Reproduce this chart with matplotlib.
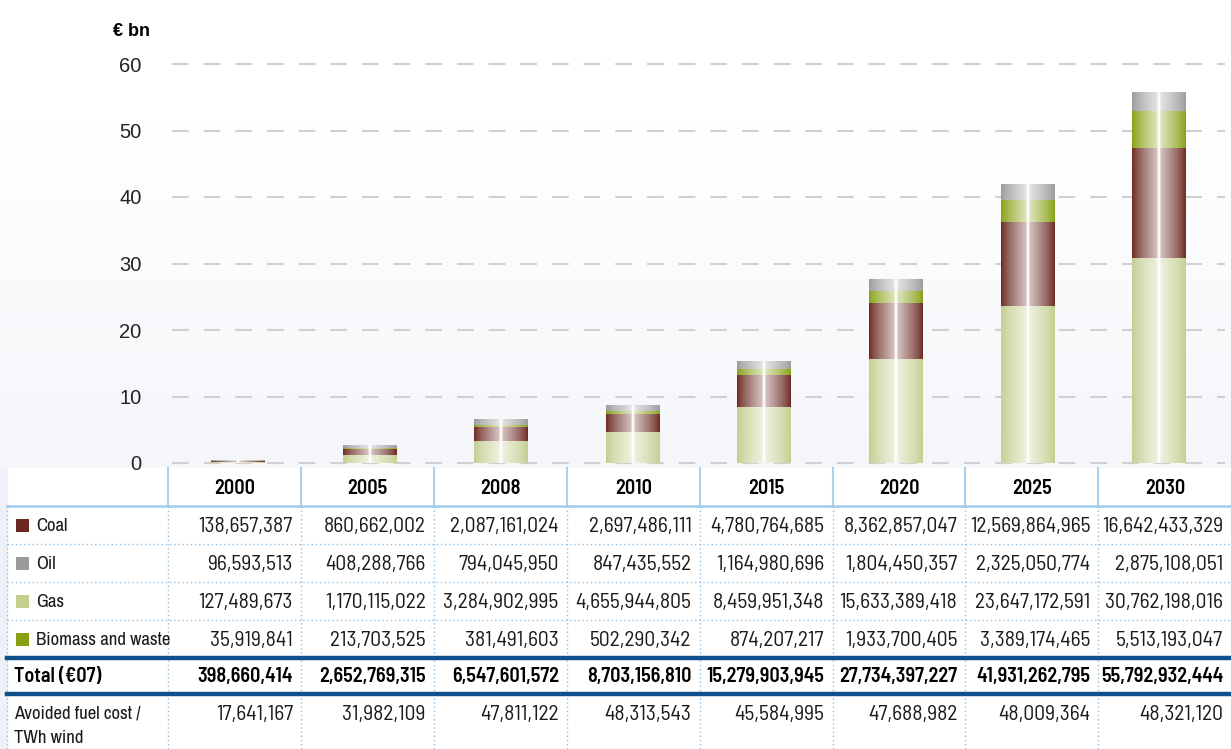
import numpy as np
import matplotlib.pyplot as plt
from matplotlib.colors import to_rgb

years = ["2000", "2005", "2008", "2010", "2015", "2020", "2025", "2030"]
coal = [138657387, 860662002, 2087161024, 2697486111, 4780764685, 8362857047, 12569864965, 16642433329]
oil = [96593513, 408288766, 794045950, 847435552, 1164980696, 1804450357, 2325050774, 2875108051]
gas = [127489673, 1170115022, 3284902995, 4655944805, 8459951348, 15633389418, 23647172591, 30762198016]
biomass = [35919841, 213703525, 381491603, 502290342, 874207217, 1933700405, 3389174465, 5513193047]
total = [398660414, 2652769315, 6547601572, 8703156810, 15279903945, 27734397227, 41931262795, 55792932444]
avoided = [17641167, 31982109, 47811122, 48313543, 45584995, 47688982, 48009364, 48321120]

c_coal = "#6b2922"
c_oil = "#9b9b9b"
c_gas = "#c3ce8f"
c_bio = "#86a012"

W, H = 1231, 749
fig = plt.figure(figsize=(W / 100, H / 100), dpi=100)

# background layer in pixel coords
bg = fig.add_axes([0, 0, 1, 1])
bg.set_xlim(0, W)
bg.set_ylim(H, 0)
bg.axis("off")
grad = np.linspace(0, 1, 100)[:, None] * np.ones((1, 2))
top = np.array(to_rgb("#ffffff"))
bot = np.array(to_rgb("#f4f6fa"))
img = top[None, None, :] * (1 - grad[..., None]) + bot[None, None, :] * grad[..., None]
bg.imshow(img, extent=[0, W, 468, 120], aspect="auto", zorder=0)
bg.add_patch(plt.Rectangle((0, 468), W, H - 468, color="white", zorder=1))
bg.add_patch(plt.Rectangle((0, 468), 7, H - 468, color="#eef1f7", zorder=1))

# chart
x0, x1 = 172.2, 1225.0
ytop, ybot = 20, 465
ax = fig.add_axes([x0 / W, 1 - ybot / H, (x1 - x0) / W, (ybot - ytop) / H])
ax.patch.set_alpha(0)
pxu = (463 - 64) / 60
for s in ax.spines.values():
    s.set_visible(False)
ax.set_xticks([])
ax.set_yticks(range(0, 61, 10))
ax.tick_params(axis="y", length=0, pad=22, labelsize=14.5, labelcolor="#222222")
for lab in ax.get_yticklabels():
    lab.set_fontfamily("Liberation Sans")
ax.yaxis.grid(True, color="#d0d0d0", linewidth=1.5, dashes=(8, 7.2))
ax.set_axisbelow(True)
fig.text(150 / W, 1 - 32 / H, "€ bn", ha="right", va="center", fontsize=13,
         fontweight="bold", family="Liberation Sans")


def shade(color, n=200):
    c = np.array(to_rgb(color))
    d = np.abs(np.linspace(0, 1, n) - 0.5)
    w = 0.75 * (1 - 2 * d) ** 0.8 + 0.3 * np.exp(-(d / 0.025) ** 2)
    w = np.clip(w, 0, 1)
    return (c[None, :] * (1 - w[:, None]) + w[:, None])[None, :, :]


xs = np.arange(len(years))
bw = 0.41
stack = [(gas, c_gas), (coal, c_coal), (biomass, c_bio), (oil, c_oil)]
bottom = np.zeros(len(years))
for vals, col in stack:
    v = np.array(vals) / 1e9
    bars = ax.bar(xs, v, bw, bottom=bottom, color=col, linewidth=0, zorder=2)
    for b in bars:
        bx, by = b.get_x(), b.get_y()
        im = ax.imshow(shade(col), extent=[bx, bx + b.get_width(), by, by + b.get_height()],
                       aspect="auto", zorder=3, interpolation="bilinear")
        im.set_clip_path(b)
    bottom += v
ax.set_xlim(-0.5, 7.5)
ax.set_ylim(-(ybot - 463) / pxu, (463 - ytop) / pxu)

# table in pixel coords
tb = fig.add_axes([0, 0, 1, 1])
tb.set_xlim(0, W)
tb.set_ylim(H, 0)
tb.axis("off")
tb.patch.set_alpha(0)

col_edges = [168 + i * 132.9 for i in range(9)]
cond = ["Barlow Semi Condensed", "DejaVu Sans"]
narrow = ["Archivo Narrow", "DejaVu Sans"]
light = "#a9d1ee"
dot = "#8fc1e8"
navy = "#0e4f8c"
txt = "#1a1a1a"
fs_num = 15.5
fs_lab = 13.5

# header
for e in col_edges[:-1]:
    tb.plot([e, e], [468, 505], color=light, lw=1.5)
tb.plot([7, W], [505.5, 505.5], color=light, lw=2)
for i, y in enumerate(years):
    cx = (col_edges[i] + col_edges[i + 1]) / 2
    tb.text(cx, 488, y, ha="center", va="center", fontsize=14.5, fontweight=600, family=cond)

# body lines
for e in [7] + col_edges[:-1]:
    tb.plot([e, e], [506, H], color=dot, lw=1, linestyle=(0, (1, 2)))
for y in [544, 582, 620]:
    tb.plot([7, W], [y, y], color=dot, lw=1, linestyle=(0, (1, 2)))
tb.plot([7, W], [658, 658], color=navy, lw=3.2)
tb.plot([7, W], [694, 694], color=navy, lw=3.2)

rows = [("Coal", coal, c_coal, 525), ("Oil", oil, c_oil, 563),
        ("Gas", gas, c_gas, 601), ("Biomass and waste", biomass, c_bio, 639)]
for name, vals, col, yc in rows:
    tb.add_patch(plt.Rectangle((16, yc - 6.5), 13, 13, color=col, lw=0))
    tb.text(36, yc + 1, name, ha="left", va="center", fontsize=fs_lab, family=narrow, color=txt)
    for i, v in enumerate(vals):
        tb.text(col_edges[i + 1] - 8, yc + 1, f"{v:,}", ha="right", va="center",
                fontsize=fs_num, family=cond, color=txt)

tb.text(14, 676, "Total (€07)", ha="left", va="center", fontsize=14.5, fontweight=600, family=cond)
for i, v in enumerate(total):
    tb.text(col_edges[i + 1] - 8, 676, f"{v:,}", ha="right", va="center",
            fontsize=14.5, fontweight=600, family=cond)

tb.text(14, 714, "Avoided fuel cost /", ha="left", va="center", fontsize=fs_lab, family=narrow, color=txt)
tb.text(14, 738, "TWh wind", ha="left", va="center", fontsize=fs_lab, family=narrow, color=txt)
for i, v in enumerate(avoided):
    tb.text(col_edges[i + 1] - 8, 715, f"{v:,}", ha="right", va="center",
            fontsize=fs_num, family=cond, color=txt)

fig.savefig("out.png", dpi=100)
